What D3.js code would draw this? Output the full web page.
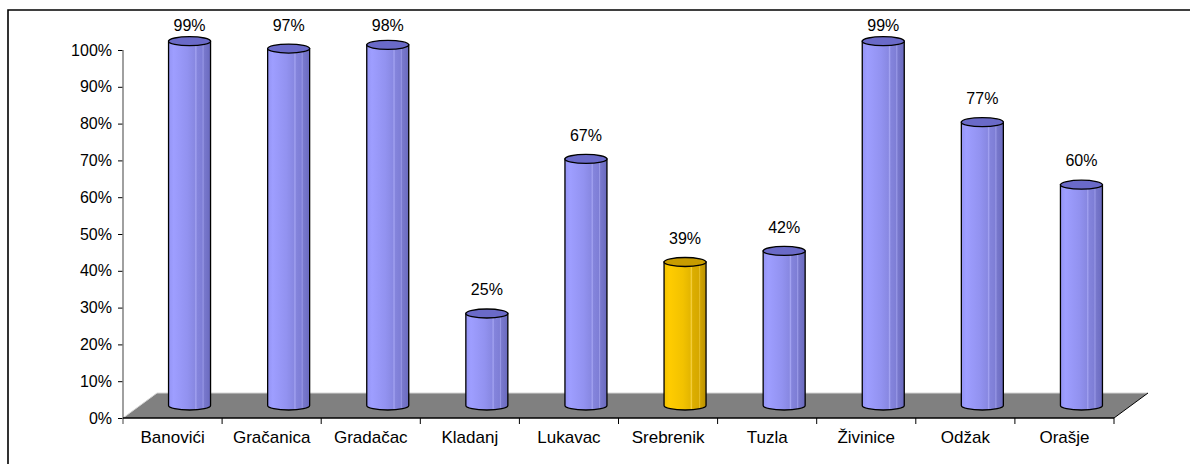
<!DOCTYPE html>
<html>
<head>
<meta charset="utf-8">
<script src="https://cdn.jsdelivr.net/npm/d3@7"></script>
<style>
  body { margin: 0; background: #fff; }
  text { font-family: "Liberation Sans", Arial, sans-serif; fill: #000; }
</style>
</head>
<body>
<div id="chart"></div>
<script>
// data
var categories = ["Banovići", "Gračanica", "Gradačac", "Kladanj", "Lukavac", "Srebrenik", "Tuzla", "Živinice", "Odžak", "Orašje"];
var values = [0.99, 0.97, 0.98, 0.25, 0.67, 0.39, 0.42, 0.99, 0.77, 0.60];
var highlighted = ["Srebrenik"];
var yTicks = [0, 0.1, 0.2, 0.3, 0.4, 0.5, 0.6, 0.7, 0.8, 0.9, 1];

var W = 1190, H = 464,
    plotLeft = 123, plotRight = 1114, plotBottom = 418, plotTop = 50,
    depthX = 34, depthY = -25,
    r = 21, ry = 4.5;

var svg = d3.select("#chart").append("svg")
    .attr("width", W)
    .attr("height", H);

var defs = svg.append("defs");
function grad(id, stops) {
    var g = defs.append("linearGradient").attr("id", id)
        .attr("x1", "0%").attr("x2", "100%").attr("y1", "0%").attr("y2", "0%");
    stops.forEach(function(s) {
        g.append("stop").attr("offset", s[0]).attr("stop-color", s[1]);
    });
}
grad("blueBody", [[0, "#9494f4"], [0.12, "#9e9eff"], [0.45, "#9292f0"], [0.62, "#8888e2"],
    [0.65, "#a4a4f2"], [0.68, "#8484dc"], [0.8, "#7e7ed6"], [0.82, "#9a9ae8"], [0.85, "#7878cc"], [1, "#6a6abf"]]);
grad("yellowBody", [[0, "#f2c200"], [0.12, "#ffcc00"], [0.45, "#f2c200"], [0.62, "#e4b600"],
    [0.65, "#f6d040"], [0.68, "#dcae00"], [0.82, "#d6a800"], [0.85, "#e8c030"], [0.87, "#cfa200"], [1, "#bb9200"]]);

// outer frame
svg.append("path")
    .attr("d", "M8," + H + " L8,10 L" + W + ",10")
    .attr("fill", "none").attr("stroke", "#000").attr("stroke-width", 1.6);

var x = d3.scaleBand().domain(categories).range([plotLeft, plotRight]).paddingInner(0).paddingOuter(0);
var y = d3.scaleLinear().domain([0, 1]).range([plotBottom, plotTop]);

// floor
svg.append("path")
    .attr("d", "M" + plotLeft + "," + plotBottom + " L" + plotRight + "," + plotBottom +
        " L" + (plotRight + depthX) + "," + (plotBottom + depthY) +
        " L" + (plotLeft + depthX) + "," + (plotBottom + depthY) + " Z")
    .attr("fill", "#808080");
svg.append("path")
    .attr("d", "M" + plotLeft + "," + plotBottom + " L" + (plotLeft + depthX) + "," + (plotBottom + depthY) +
        " L" + (plotRight + depthX) + "," + (plotBottom + depthY))
    .attr("fill", "none").attr("stroke", "#d4d4d4").attr("stroke-width", 1);
svg.append("path")
    .attr("d", "M" + plotRight + "," + plotBottom + " L" + (plotRight + depthX) + "," + (plotBottom + depthY))
    .attr("fill", "none").attr("stroke", "#000").attr("stroke-width", 1);

// y axis
var yAxis = d3.axisLeft(y).tickValues(yTicks).tickFormat(d3.format(".0%")).tickSize(5).tickPadding(6);
var gy = svg.append("g").attr("transform", "translate(" + plotLeft + ",0)").call(yAxis);
gy.select(".domain").remove();
gy.selectAll(".tick line").attr("stroke", "#000");
gy.selectAll("text").style("font-size", "16px");
svg.append("line")
    .attr("x1", plotLeft).attr("x2", plotLeft).attr("y1", plotTop).attr("y2", plotBottom + 6)
    .attr("stroke", "#808080").attr("stroke-width", 1.5);

// x axis
var xAxis = d3.axisBottom(x).tickSize(0).tickPadding(13);
var gx = svg.append("g").attr("transform", "translate(0," + plotBottom + ")").call(xAxis);
gx.select(".domain").remove();
gx.selectAll("text").style("font-size", "17px");
svg.append("line")
    .attr("x1", plotLeft).attr("x2", plotRight).attr("y1", plotBottom).attr("y2", plotBottom)
    .attr("stroke", "#000").attr("stroke-width", 1.5);
svg.selectAll(".xtick")
    .data(categories.slice(1).map(function(c) { return x(c); }).concat([plotRight]))
    .enter().append("line")
    .attr("class", "xtick")
    .attr("x1", function(d) { return d; }).attr("x2", function(d) { return d; })
    .attr("y1", plotBottom).attr("y2", plotBottom + 6)
    .attr("stroke", "#000");

// cylinders sit in the middle of the floor depth
var bars = svg.selectAll(".bar")
    .data(categories.map(function(c, i) { return { name: c, v: values[i] }; }))
    .enter().append("g")
    .attr("class", "bar");

function cx(d) { return x(d.name) + x.bandwidth() / 2 + depthX / 2; }
function yTop(d) { return y(d.v) + depthY / 2; }
var yBase = y(0) + depthY / 2;
function isHi(d) { return highlighted.indexOf(d.name) >= 0; }

bars.append("path")
    .attr("d", function(d) {
        var c = cx(d), t = yTop(d);
        return "M" + (c - r) + "," + t + " L" + (c - r) + "," + yBase +
            " A" + r + "," + ry + " 0 0 0 " + (c + r) + "," + yBase +
            " L" + (c + r) + "," + t + " Z";
    })
    .attr("fill", function(d) { return isHi(d) ? "url(#yellowBody)" : "url(#blueBody)"; })
    .attr("stroke", "#000").attr("stroke-width", 1.3);

bars.append("ellipse")
    .attr("cx", cx).attr("cy", yTop)
    .attr("rx", r).attr("ry", ry)
    .attr("fill", function(d) { return isHi(d) ? "#c89c00" : "#6a6ac8"; })
    .attr("stroke", "#000").attr("stroke-width", 1.3);

bars.append("text")
    .attr("x", cx)
    .attr("y", function(d) { return Math.max(yTop(d) - 24, 25); })
    .attr("dy", "0.35em")
    .attr("text-anchor", "middle")
    .style("font-size", "16px")
    .text(function(d) { return Math.round(d.v * 100) + "%"; });
</script>
</body>
</html>
